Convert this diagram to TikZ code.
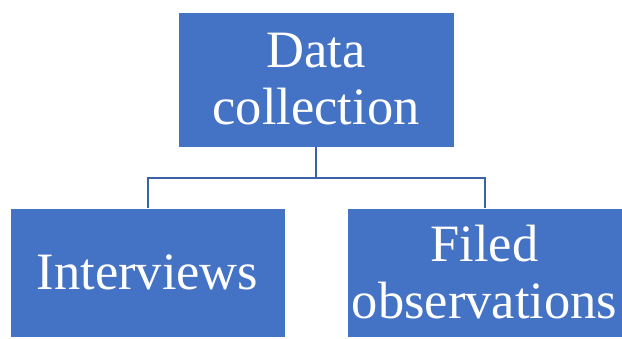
\documentclass[tikz,border=0pt]{standalone}
\usepackage{fontspec}
\setmainfont{Liberation Serif}
\definecolor{boxblue}{HTML}{4472C4}
\definecolor{linkblue}{HTML}{3A62A8}
\tikzset{
    block/.style={fill=boxblue, draw=white, line width=0.6pt, text=white, align=center,
        inner sep=0pt, font=\fontsize{52.5}{57}\selectfont},
    link/.style={draw=linkblue, line width=2pt}
}
\begin{document}
\begin{tikzpicture}[x=1pt,y=-1pt]
            \useasboundingbox (0,0) rectangle (622,338);

            \node[block, minimum width=276pt, minimum height=135pt] (data) at (316,79.5) {Data\\collection};
            \node[block, minimum width=275pt, minimum height=129pt] (interviews) at (147.5,272.5) {Interviews};
            \node[block, minimum width=275pt, minimum height=129pt] (observ) at (484.5,272.5) {Filed\\observations};

            \coordinate (fork) at (316,178);

            \draw[link] (data.south) -- (fork) -| (interviews.north);
            \draw[link] (fork) -| (observ.north);

        \end{tikzpicture}
\end{document}
